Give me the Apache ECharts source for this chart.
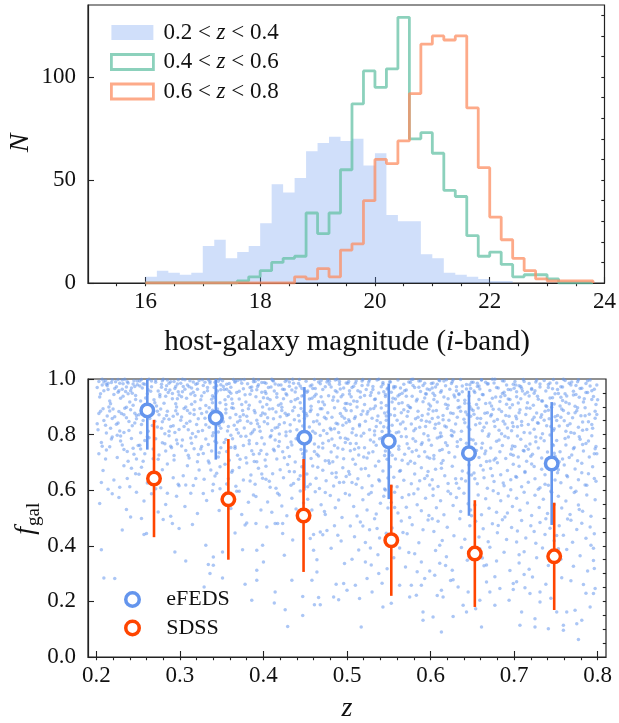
<!DOCTYPE html>
<html>
<head>
<meta charset="utf-8">
<script src="https://cdn.jsdelivr.net/npm/echarts@6/dist/echarts.min.js"></script>
<style>
  html, body { margin: 0; padding: 0; background: #fff; }
  #chart { width: 619px; height: 723px; }
</style>
</head>
<body>
<div id="chart"></div>
<script>
// ---------- top panel: host-galaxy i-band magnitude histograms ----------
// lower edges of the 0.2 mag bins
const magBinLower = [16.0,16.2,16.4,16.6,16.8,17.0,17.2,17.4,17.6,17.8,18.0,18.2,18.4,18.6,18.8,19.0,19.2,19.4,19.6,19.8,
                     20.0,20.2,20.4,20.6,20.8,21.0,21.2,21.4,21.6,21.8,22.0,22.2,22.4,22.6,22.8,23.0,23.2,23.4,23.6];
const magRangeEnd = 23.8;
const histLabels = ['0.2 < z < 0.4', '0.4 < z < 0.6', '0.6 < z < 0.8'];
const countsLowZ  = [3,6,5,4,5,18,21,12,15,18,29,48,44,51,64,68,71,69,70,57,63,33,30,30,14,12,5,4,3,2,1,1,0,0,0,0,0,0,0];
const countsMidZ  = [0,0,0,0,0,0,0,0,1,3,6,10,12,13,34,24,34,55,87,103,95,104,129,70,73,63,45,42,23,13,15,9,3,4,4,2,0,0,0];
const countsHighZ = [0,0,0,0,0,0,0,0,0,0,0,0,0,3,2,7,3,16,19,40,60,58,69,92,116,120,118,120,85,56,32,21,12,6,2,1,1,1,1];
const magTicks = [16, 18, 20, 22, 24];
const countTicks = [0, 50, 100];

// ---------- bottom panel: host-galaxy fraction vs redshift ----------
// individual sources, flat (z, f_gal) pairs in units of 1e-3
const galaxyDotsUpper = [
 203,991,207,978,211,995,214,962,218,987,221,944,224,972,226,998,229,931,232,983,235,955,237,990,240,917,242,968,245,994,247,941,249,979,204,935,209,958,216,921,223,990,231,963,238,947,244,906,212,981,227,958,234,999,246,973,
 205,884,209,851,213,867,217,823,220,892,226,842,230,876,233,808,236,861,241,889,243,832,248,857,202,817,215,899,222,864,228,813,239,847,246,877,211,834,234,895,
 206,772,212,745,219,791,225,718,231,763,237,739,242,786,248,712,203,731,216,756,229,795,244,751,
 252,993,255,968,258,981,261,947,263,999,266,972,269,925,271,988,274,957,276,936,279,994,281,913,284,976,286,951,289,990,291,929,294,966,297,982,299,942,253,921,259,907,265,956,272,903,278,970,283,938,288,960,295,911,298,997,
 251,871,254,836,257,889,262,812,264,858,268,894,273,827,275,871,279,846,282,803,285,884,289,829,292,866,296,899,299,818,256,851,267,833,277,892,287,855,294,808,
 252,762,258,731,263,789,268,748,274,711,279,771,283,741,287,796,293,725,297,767,256,704,271,785,290,753,
 301,985,303,954,306,997,308,931,311,972,313,946,316,989,318,918,321,963,323,995,326,939,328,977,331,905,333,958,336,986,338,927,341,969,343,948,346,992,348,915,304,973,314,909,319,981,329,951,334,997,339,940,344,976,349,961,
 302,863,305,829,309,887,312,848,315,804,317,872,320,836,324,894,327,815,330,859,332,881,335,826,337,868,340,807,342,851,345,892,347,833,349,874,307,899,322,857,339,888,310,817,
 303,781,307,743,311,716,314,769,319,792,322,728,326,757,331,784,334,705,338,741,342,776,346,719,349,753,317,749,328,732,
 351,994,353,962,356,981,358,937,361,970,363,912,366,988,368,951,371,928,373,996,376,965,378,943,381,983,383,906,386,959,388,990,391,936,393,973,396,918,398,952,354,925,364,998,374,908,384,969,394,997,359,955,
 352,846,355,878,357,813,360,861,362,897,365,834,367,872,370,806,372,851,375,887,377,824,380,866,382,893,385,841,387,809,390,879,392,852,395,828,397,869,399,899,369,845,389,817,
 353,772,356,739,359,708,363,785,366,751,369,726,373,794,376,761,379,717,383,779,386,742,389,703,392,768,395,731,398,789,361,754,
 401,987,403,948,406,969,408,925,411,995,413,957,416,934,418,978,421,911,423,963,426,991,428,942,431,974,433,919,436,985,438,953,441,930,443,998,446,966,448,941,404,908,414,982,424,929,434,960,444,915,
 402,874,405,839,407,892,410,815,412,857,415,881,417,826,420,864,422,898,425,843,427,809,430,872,432,835,435,886,437,853,440,817,442,869,445,894,447,831,449,858,419,802,
 401,766,404,729,408,791,412,747,416,712,419,775,423,738,427,796,431,721,434,763,438,701,441,784,445,746,448,718,414,781,429,754,
 451,992,453,957,456,975,458,931,461,998,463,945,466,918,468,983,471,962,473,907,476,989,478,940,481,971,483,924,486,996,488,953,491,981,493,936,496,968,498,912,459,966,469,936,479,992,489,921,
 452,868,455,827,457,889,460,846,462,805,465,871,467,838,470,893,472,815,475,857,477,879,480,823,482,862,485,897,487,841,490,808,492,876,495,834,497,859,499,887,
 451,741,454,782,457,714,461,766,464,729,468,797,471,752,474,706,478,778,481,737,485,761,488,719,492,789,495,747,498,772,466,755,483,702,
 501,985,503,946,506,969,508,921,511,993,513,958,516,934,518,977,521,908,523,962,526,989,528,941,531,973,533,926,536,996,538,950,541,915,543,981,546,937,548,964,504,909,519,998,534,903,544,954,
 502,853,505,886,507,821,510,864,512,899,515,836,517,872,520,805,522,848,525,883,527,817,530,859,532,894,535,829,537,867,540,843,542,811,545,878,547,852,549,825,
 501,783,504,742,507,711,511,768,514,727,517,795,521,753,524,716,528,781,531,738,535,762,538,704,542,789,545,725,548,758,509,747,533,799,
 551,990,553,952,556,973,558,928,561,996,563,944,566,915,568,981,571,960,573,905,576,987,578,938,581,969,583,921,586,993,588,955,591,977,593,932,596,964,598,910,554,917,564,968,579,999,594,947,
 552,871,554,834,557,893,560,852,562,809,565,879,567,845,570,821,572,866,575,898,577,838,580,814,582,857,585,884,587,826,590,869,592,803,595,848,598,891,
 551,736,555,774,558,712,562,758,565,793,569,729,572,767,576,704,579,785,583,744,586,722,590,771,593,738,597,796,599,715,574,751,
 601,984,603,949,606,971,608,917,611,994,613,958,616,935,618,976,621,906,623,963,626,990,628,942,631,972,633,923,636,998,638,954,641,913,643,980,646,939,648,966,604,926,619,997,634,944,647,901,
 602,858,605,823,607,887,610,841,612,806,615,869,617,831,620,894,622,852,625,815,627,876,630,838,632,862,635,899,637,812,640,855,642,881,645,827,648,866,
 601,762,604,725,608,788,611,743,615,707,618,771,622,736,625,798,629,719,632,757,636,782,639,731,643,769,646,708,649,749,613,794,
 651,988,653,951,656,973,658,926,661,997,663,943,666,912,668,982,671,959,673,903,676,986,678,935,681,968,683,919,686,994,688,952,691,978,693,928,696,961,698,907,659,964,674,999,689,941,
 652,873,654,835,657,896,660,858,662,814,665,877,667,842,670,802,672,867,675,891,677,829,680,854,682,816,685,883,687,848,690,869,692,824,695,897,698,843,
 651,781,655,743,658,718,662,769,665,731,669,794,672,752,676,709,679,776,683,738,686,761,690,714,693,789,697,748,699,726,667,703,
 701,991,703,954,706,976,708,929,711,998,713,946,716,915,718,984,721,962,723,906,726,989,728,938,731,971,733,921,736,995,738,957,741,980,743,932,746,965,748,910,709,967,724,949,739,901,
 702,866,704,828,707,889,709,847,712,808,714,872,717,836,719,895,722,853,724,819,727,878,729,841,732,862,734,803,737,884,739,832,742,857,745,898,748,821,
 701,757,705,719,708,783,712,741,715,704,719,766,722,729,726,791,729,752,733,716,736,778,740,737,743,799,747,761,749,722,717,747,
 751,986,753,948,756,972,758,923,761,995,763,939,766,911,768,978,771,956,773,902,776,990,778,934,781,967,783,917,786,984,788,951,791,975,793,926,796,963,798,908,759,999,774,944,
 752,869,754,831,757,892,760,850,762,812,765,877,767,839,770,861,772,805,775,886,777,826,780,868,782,845,785,897,787,818,790,873,793,836,797,859,
 751,779,755,738,758,712,762,763,765,791,769,727,772,754,776,706,779,783,783,741,786,768,790,719,793,796,797,749,799,731
];
const galaxyDotsUpperB = [
 219,997,201,969,238,986,226,952,207,999,244,982,213,976,232,938,249,993,205,947,228,985,241,958,217,911,236,971,209,989,247,926,222,966,231,996,243,949,214,985,
 233,871,208,893,246,842,219,858,203,876,239,815,227,883,212,806,248,869,224,837,236,898,216,885,201,839,
 229,777,245,729,207,758,238,704,218,784,250,761,211,712,233,746,225,798,
 242,679,206,628,219,587,237,642,228,611,248,593,
 271,996,256,983,293,991,262,961,280,999,298,954,252,975,276,944,287,985,266,993,259,932,295,973,283,962,270,915,291,948,254,998,278,981,264,904,297,929,285,996,
 273,884,258,866,292,832,266,891,281,857,297,874,253,807,287,812,270,848,262,879,278,823,295,886,284,869,
 261,792,289,758,275,727,253,748,296,781,268,713,282,767,293,709,258,779,
 279,674,264,643,298,621,285,589,271,605,251,657,
 327,997,309,978,342,988,316,952,333,969,348,999,302,936,321,984,339,915,312,994,345,957,325,925,306,963,336,992,318,941,349,979,330,988,303,999,341,934,314,968,
 326,876,343,858,308,841,335,897,317,889,349,823,301,852,322,811,339,869,312,877,331,835,346,809,305,894,
 334,764,313,788,347,735,321,702,302,759,339,796,325,748,310,726,344,771,
 337,673,319,642,348,605,307,619,328,588,342,651,
 377,998,359,984,392,961,366,992,384,945,352,973,398,987,371,956,388,999,362,928,394,979,379,917,356,963,369,995,386,971,400,933,374,985,361,949,390,991,355,908,
 372,864,389,887,358,829,381,848,396,812,364,895,376,871,351,857,393,839,385,803,368,818,399,878,355,891,
 383,767,361,798,397,743,372,711,355,782,388,729,366,757,379,794,392,702,
 363,671,384,633,398,658,371,596,356,622,391,577,
 428,996,409,971,442,984,416,947,435,999,403,985,449,958,421,978,438,925,412,993,446,939,425,962,405,931,431,989,418,906,444,975,427,947,410,999,439,968,402,955,
 426,877,443,849,411,893,432,812,405,861,448,883,419,836,437,898,414,824,401,846,428,869,445,808,422,887,
 433,773,409,796,447,731,418,758,402,709,439,785,425,717,413,742,446,769,
 431,667,408,611,444,652,419,583,436,624,403,639,
 477,997,458,978,492,964,466,989,484,935,452,952,499,986,471,917,488,999,462,966,495,943,479,981,455,928,469,995,486,958,500,912,474,972,461,938,491,991,457,902,
 473,862,489,838,456,883,481,817,497,895,464,849,476,804,451,876,494,866,485,821,468,893,499,843,459,812,
 482,784,461,739,496,713,471,769,454,794,489,752,466,723,478,706,498,787,
 465,683,487,647,453,612,496,629,474,592,482,661,
 527,996,508,974,543,987,516,953,534,928,502,991,549,968,521,941,538,999,512,919,546,944,525,978,505,936,531,962,518,993,547,905,529,951,510,985,541,972,503,958,
 524,874,541,896,509,858,533,813,547,867,515,831,528,892,503,847,544,828,519,885,536,851,506,807,549,881,
 532,773,511,798,546,741,520,719,504,768,539,785,526,734,514,753,548,711,
 517,676,538,638,503,657,545,604,526,585,511,621,
 577,998,558,972,593,985,566,949,584,927,552,989,599,961,571,938,588,994,562,912,595,946,579,977,555,931,569,958,586,970,600,903,574,989,561,939,591,918,556,968,
 573,883,589,852,557,869,582,821,597,874,564,838,576,897,551,812,594,829,585,862,568,889,599,845,559,807,
 582,776,562,747,596,719,571,792,554,726,589,764,566,708,578,738,598,781,
 563,668,587,634,553,613,596,652,574,584,581,697,
 627,997,608,981,643,964,616,993,634,947,602,968,649,988,621,929,638,975,612,952,646,912,625,984,605,941,631,958,618,909,647,979,629,935,610,996,641,924,603,986,
 624,878,641,843,609,862,633,897,647,818,615,853,628,809,603,885,644,871,619,827,636,884,606,837,649,892,
 632,774,611,791,646,738,620,761,604,713,639,729,626,795,614,746,648,783,
 613,679,637,641,603,604,645,662,624,587,631,625,
 677,999,658,975,693,962,666,988,684,936,652,957,699,981,671,914,688,993,662,944,695,926,679,969,655,908,669,983,686,948,700,967,674,931,661,996,691,909,656,985,
 673,872,689,838,656,859,682,891,697,814,664,826,676,848,651,887,694,866,685,803,668,879,699,829,659,841,
 682,781,661,752,696,729,671,705,654,767,689,794,666,741,678,715,698,759,
 663,673,687,626,653,641,696,602,674,652,681,588,
 727,996,708,973,743,986,716,952,734,921,702,978,749,947,721,966,738,904,712,991,746,933,725,958,705,914,731,982,718,939,747,998,729,927,710,957,741,969,703,936,
 724,862,741,888,709,834,733,871,747,815,715,896,728,843,703,857,744,829,719,806,736,852,706,879,749,864,
 732,788,711,743,746,764,720,722,704,795,739,711,726,774,714,758,748,733,
 713,664,737,621,703,647,745,593,724,685,731,609,
 777,997,758,971,793,958,766,985,784,929,752,962,799,978,771,942,788,994,762,916,795,937,779,966,755,903,769,989,786,951,800,925,774,977,761,947,791,996,756,934,
 773,879,789,846,756,862,782,816,797,884,764,833,776,897,751,851,794,823,785,868,768,808,799,872,759,887,
 782,764,761,786,796,731,771,749,754,702,789,777,766,718,778,792,798,757,
 763,653,787,618,753,674,796,642,774,596,781,663
];
const galaxyDotsMiddle = [
 208,671,221,637,233,688,240,612,247,659,214,603,227,574,236,531,204,552,241,504,231,457,
 254,683,261,626,269,661,277,609,285,694,292,645,299,616,257,561,266,587,274,522,283,549,296,578,254,498,260,444,257,441,280,495,289,506,291,480,299,462,
 304,652,309,688,316,617,323,673,329,639,335,698,340,621,344,661,348,684,306,541,313,589,321,516,332,563,339,598,347,527,315,477,331,402,
 354,693,358,641,362,665,367,614,371,682,376,637,380,698,385,655,390,621,394,679,399,643,355,572,361,534,368,596,374,513,382,557,388,583,397,529,366,446,378,475,380,482,391,480,399,402,
 403,686,407,632,411,659,415,607,420,674,424,645,429,692,433,618,437,666,442,639,446,684,449,603,405,558,410,521,417,589,422,543,428,508,434,571,439,532,444,597,448,554,404,468,414,480,417,480,423,480,423,444,435,421,446,487,
 452,658,456,621,459,687,463,643,467,606,471,672,475,634,479,697,484,615,487,663,491,628,495,681,499,649,453,567,458,529,462,594,469,548,474,513,480,581,486,537,490,565,494,502,498,588,460,441,456,426,468,450,471,440,476,455,485,472,493,417,
 502,667,506,628,510,693,513,641,518,609,522,678,526,652,530,616,534,687,539,633,543,669,546,601,549,644,503,583,508,541,512,507,519,566,524,529,529,592,535,514,540,553,544,578,549,536,504,471,509,433,516,486,522,412,527,458,533,497,539,428,547,445,
 552,684,556,647,560,612,564,671,568,636,573,695,577,623,581,658,585,604,589,681,593,642,597,667,599,619,553,556,557,593,561,518,566,574,571,539,575,502,580,587,584,548,589,526,594,571,598,509,554,464,559,427,565,489,572,443,578,476,586,411,591,458,597,493,
 602,638,606,675,609,613,613,697,617,652,621,624,626,686,630,641,634,607,638,669,642,633,646,691,649,655,603,581,607,537,612,562,616,512,621,596,627,545,631,574,636,523,640,589,645,551,649,508,604,451,609,488,614,419,620,467,628,436,635,497,641,424,647,472,
 652,662,656,623,660,689,664,645,668,607,672,678,676,631,680,699,684,656,688,616,692,671,696,638,699,693,653,547,657,583,661,512,666,569,670,535,675,598,679,521,684,562,689,504,693,579,698,541,654,488,658,432,663,461,669,415,674,479,680,447,686,494,691,423,697,466,
 702,649,706,686,709,612,713,667,717,629,721,694,725,641,729,603,733,675,737,656,741,618,745,683,749,637,703,571,707,528,712,593,716,554,721,509,725,582,730,538,735,567,740,516,744,596,748,549,704,453,709,491,714,428,720,472,726,409,731,484,737,441,743,463,748,418,
 752,663,756,627,760,691,764,648,768,609,773,676,777,638,781,697,785,619,789,659,794,684,798,632,753,578,757,536,762,561,767,513,772,592,777,547,782,524,787,583,792,506,797,566,754,472,759,438,764,496,770,413,775,459,781,481,786,427,791,468,796,443,
 473,523,519,471,557,538,602,497,648,529,692,518,738,497,778,531,567,448,751,437,489,438,536,462,681,473,724,451,768,492
];
const galaxyDotsLower = [
 206,386,209,284,222,282,294,378,
 307,345,334,333,336,300,340,330,340,360,329,252,351,378,351,284,
 375,386,392,384,392,312,400,342,378,262,392,276,386,204,
 425,366,414,234,434,276,447,218,413,194,426,170,429,110,447,149,
 460,384,464,350,464,306,481,391,497,336,458,276,461,188,468,188,466,214,484,216,490,206,496,264,500,240,487,262,
 506,352,514,385,529,331,537,368,548,317,510,258,515,210,524,282,530,234,538,300,543,180,517,108,
 556,357,563,392,570,324,581,371,589,342,599,309,563,258,577,258,575,216,583,222,589,258,593,282,591,162,591,132,
 606,383,611,337,619,361,626,312,637,394,644,348,605,294,613,240,615,216,633,252,645,234,624,275,603,144,627,146,639,186,643,162,613,90,
 656,366,664,328,671,395,679,345,688,377,695,311,659,204,667,270,671,234,683,246,694,204,699,264,677,289,661,108,677,186,
 706,338,712,379,718,316,727,357,734,392,741,329,747,371,703,271,713,249,722,288,738,262,719,228,731,234,707,114,709,162,725,138,731,198,741,102,725,108,
 756,352,763,387,771,326,779,364,788,309,795,391,797,246,795,228,768,274,783,261,751,162,759,114,763,162,773,168,775,120,781,132,791,180,759,96,777,63,
 528,392,611,402,659,389,703,414,792,402,542,265,584,307,627,278,667,331,712,297,757,285,796,318,553,193,608,221,654,174,699,243,744,211,786,229,
 522,342,574,376,618,329,662,356,706,368,753,389,795,347
];

// binned means with symmetric 1-sigma error bars
const efedsZ   = [0.261, 0.343, 0.449, 0.550, 0.646, 0.745];
const efedsF   = [0.887, 0.861, 0.789, 0.776, 0.733, 0.696];
const efedsErr = [0.141, 0.151, 0.182, 0.208, 0.225, 0.221];
const sdssZ    = [0.269, 0.358, 0.448, 0.553, 0.653, 0.748];
const sdssF    = [0.642, 0.567, 0.509, 0.420, 0.372, 0.362];
const sdssErr  = [0.211, 0.217, 0.203, 0.200, 0.192, 0.193];
const zTicks = [0.2, 0.3, 0.4, 0.5, 0.6, 0.7, 0.8];
const fracTicks = [0.0, 0.2, 0.4, 0.6, 0.8, 1.0];

// ---------- styling ----------
const FONT = 'Liberation Serif';
const INK = '#111';
const SPINE = '#222';
const BLUE_FILL = 'rgba(100,149,237,0.3)';
const GREEN_LINE = 'rgba(102,194,165,0.75)';
const ORANGE_LINE = 'rgba(252,141,98,0.75)';
const EFEDS_COLOR = '#6495ED';
const SDSS_COLOR = '#FF4500';

function stepData(counts) {
  return magBinLower.map((m, i) => [m, counts[i]]).concat([[magRangeEnd, 0]]);
}
function unpackPairs(flat) {
  const out = [];
  for (let i = 0; i < flat.length; i += 2) out.push([flat[i] / 1000, flat[i + 1] / 1000]);
  return out;
}
function range(start, stop, step, digits) {
  const out = [];
  for (let k = 0; start + k * step <= stop + 1e-9; k++) out.push(+(start + k * step).toFixed(digits));
  return out;
}

const tickLine = { color: SPINE, width: 1.1 };
const labelStyle = { color: INK, fontFamily: FONT, fontSize: 23 };

function majorAxis(gridIndex, min, max, ticks, fmt, margin) {
  return {
    gridIndex, type: 'value', min, max,
    axisLine: { show: true, onZero: false, lineStyle: { color: SPINE, width: 1.2 } },
    axisTick: { show: true, inside: true, length: 6, customValues: ticks, lineStyle: tickLine },
    axisLabel: Object.assign({ show: true, customValues: ticks, margin, formatter: fmt }, labelStyle),
    splitLine: { show: false }
  };
}
function minorAxis(gridIndex, min, max, ticks) {
  return {
    gridIndex, type: 'value', min, max,
    axisLine: { show: false },
    axisTick: { show: true, inside: true, length: 3.2, customValues: ticks, lineStyle: tickLine },
    axisLabel: { show: false },
    splitLine: { show: false }
  };
}

function errorBars(zs, fs, errs, color, z) {
  return {
    type: 'custom', xAxisIndex: 2, yAxisIndex: 2, z, clip: true, silent: true,
    data: zs.map((v, i) => [v, fs[i] - errs[i], fs[i] + errs[i]]),
    encode: { x: 0, y: [1, 2] },
    renderItem(params, api) {
      const lo = api.coord([api.value(0), api.value(1)]);
      const hi = api.coord([api.value(0), api.value(2)]);
      const top = params.coordSys.y;
      return {
        type: 'line',
        shape: { x1: lo[0], y1: lo[1], x2: hi[0], y2: Math.max(hi[1], top) },
        style: { stroke: color, lineWidth: 2.6 }
      };
    }
  };
}
function openMarkers(name, zs, fs, color, z) {
  return {
    type: 'scatter', name, xAxisIndex: 2, yAxisIndex: 2, z, silent: true,
    data: zs.map((v, i) => [v, fs[i]]),
    symbol: 'circle', symbolSize: 12.5,
    itemStyle: { color: '#fff', borderColor: color, borderWidth: 3.5, opacity: 1 }
  };
}

const legendRich = {
  sp: { width: 5 },
  t: { fontFamily: FONT, fontSize: 23, color: INK },
  i: { fontFamily: FONT, fontSize: 23, fontStyle: 'italic', color: INK }
};

const option = {
  animation: false,
  backgroundColor: '#fff',
  textStyle: { fontFamily: FONT },
  grid: [
    { left: 88, top: 5, width: 517, height: 278, show: true, borderColor: SPINE, borderWidth: 1.2, backgroundColor: 'transparent' },
    { left: 88, top: 379, width: 518, height: 278, show: true, borderColor: SPINE, borderWidth: 1.2, backgroundColor: 'transparent' }
  ],
  xAxis: [
    majorAxis(0, 15, 24, magTicks, v => String(v), 7),
    minorAxis(0, 15, 24, range(15.5, 23.5, 0.5, 1)),
    majorAxis(1, 0.19, 0.81, zTicks, v => v.toFixed(1), 7),
    minorAxis(1, 0.19, 0.81, range(0.2, 0.8, 0.02, 2))
  ],
  yAxis: [
    majorAxis(0, 0, 135, countTicks, v => String(v), 12),
    minorAxis(0, 0, 135, range(10, 130, 10, 0)),
    majorAxis(1, 0, 1, fracTicks, v => v.toFixed(1), 12),
    minorAxis(1, 0, 1, range(0.05, 0.95, 0.05, 2))
  ],
  legend: [
    {
      orient: 'vertical', left: 105, top: 16, itemWidth: 42, itemHeight: 15, itemGap: 6.5,
      selectedMode: false,
      data: [
        { name: histLabels[0], icon: 'rect', itemStyle: { color: BLUE_FILL, borderWidth: 0 } },
        { name: histLabels[1], icon: 'rect', itemStyle: { color: '#fff', borderColor: GREEN_LINE, borderWidth: 2.8 } },
        { name: histLabels[2], icon: 'rect', itemStyle: { color: '#fff', borderColor: ORANGE_LINE, borderWidth: 2.8 } }
      ],
      formatter: name => {
        const parts = name.split('z');
        return '{sp| }{t|' + parts[0] + '}{i|z}{t|' + parts[1] + '}';
      },
      textStyle: { fontFamily: FONT, fontSize: 23, lineHeight: 23, color: INK, rich: legendRich }
    },
    {
      orient: 'vertical', left: 119, top: 583.5, itemWidth: 13.5, itemHeight: 13.5, itemGap: 6.4,
      selectedMode: false, icon: 'circle',
      data: [
        { name: 'eFEDS', itemStyle: { color: '#fff', borderColor: EFEDS_COLOR, borderWidth: 3.5 } },
        { name: 'SDSS', itemStyle: { color: '#fff', borderColor: SDSS_COLOR, borderWidth: 3.5 } }
      ],
      formatter: name => '{gap| }{t|' + name + '}',
      textStyle: { fontFamily: FONT, fontSize: 22, lineHeight: 22, color: INK,
                   rich: { gap: { width: 22 }, t: { fontFamily: FONT, fontSize: 22, color: INK } } }
    }
  ],
  graphic: [
    { type: 'text', x: 347, y: 342, silent: true,
      style: { text: '{r|host-galaxy magnitude (}{i|i}{r|-band)}', fill: INK,
               textAlign: 'center', textVerticalAlign: 'middle', align: 'center', verticalAlign: 'middle',
               rich: { r: { fontFamily: FONT, fontSize: 29, fill: INK }, i: { fontFamily: FONT, fontSize: 29, fontStyle: 'italic', fill: INK } } } },
    { type: 'text', x: 21, y: 143, rotation: Math.PI / 2, silent: true,
      style: { text: 'N', font: 'italic 28px "Liberation Serif"', fill: INK,
               textAlign: 'center', textVerticalAlign: 'middle', align: 'center', verticalAlign: 'middle' } },
    { type: 'group', x: 26, y: 521, rotation: Math.PI / 2, silent: true,
      children: [
        { type: 'text', x: -6, y: 0,
          style: { text: 'f', font: 'italic 28px "Liberation Serif"', fill: INK,
                   textAlign: 'right', textVerticalAlign: 'middle', align: 'right', verticalAlign: 'middle' } },
        { type: 'text', x: -5, y: 8,
          style: { text: 'gal', font: '19px "Liberation Serif"', fill: INK,
                   textAlign: 'left', textVerticalAlign: 'middle', align: 'left', verticalAlign: 'middle' } }
      ] },
    { type: 'text', x: 347, y: 709, silent: true,
      style: { text: 'z', font: 'italic 28px "Liberation Serif"', fill: INK,
               textAlign: 'center', textVerticalAlign: 'middle', align: 'center', verticalAlign: 'middle' } }
  ],
  series: [
    { type: 'line', name: histLabels[0], xAxisIndex: 0, yAxisIndex: 0, step: 'end', symbol: 'none', silent: true, z: 2,
      data: stepData(countsLowZ), lineStyle: { opacity: 0, width: 0 },
      itemStyle: { color: BLUE_FILL }, areaStyle: { color: BLUE_FILL, opacity: 1 } },
    { type: 'line', name: histLabels[1], xAxisIndex: 0, yAxisIndex: 0, step: 'end', symbol: 'none', silent: true, z: 3,
      data: stepData(countsMidZ), lineStyle: { color: GREEN_LINE, width: 2.8 }, itemStyle: { color: GREEN_LINE } },
    { type: 'line', name: histLabels[2], xAxisIndex: 0, yAxisIndex: 0, step: 'end', symbol: 'none', silent: true, z: 4,
      data: stepData(countsHighZ), lineStyle: { color: ORANGE_LINE, width: 2.8 }, itemStyle: { color: ORANGE_LINE } },
    { type: 'scatter', name: 'sources', xAxisIndex: 2, yAxisIndex: 2, z: 2, silent: true,
      data: unpackPairs(galaxyDotsUpper.concat(galaxyDotsUpperB, galaxyDotsMiddle, galaxyDotsLower)),
      symbol: 'circle', symbolSize: 3.5, itemStyle: { color: 'rgba(100,149,237,0.68)' } },
    errorBars(efedsZ, efedsF, efedsErr, EFEDS_COLOR, 3),
    openMarkers('eFEDS', efedsZ, efedsF, EFEDS_COLOR, 4),
    errorBars(sdssZ, sdssF, sdssErr, SDSS_COLOR, 5),
    openMarkers('SDSS', sdssZ, sdssF, SDSS_COLOR, 6)
  ]
};

const chart = echarts.init(document.getElementById('chart'), null, { renderer: 'canvas' });
chart.setOption(option);
</script>
</body>
</html>
